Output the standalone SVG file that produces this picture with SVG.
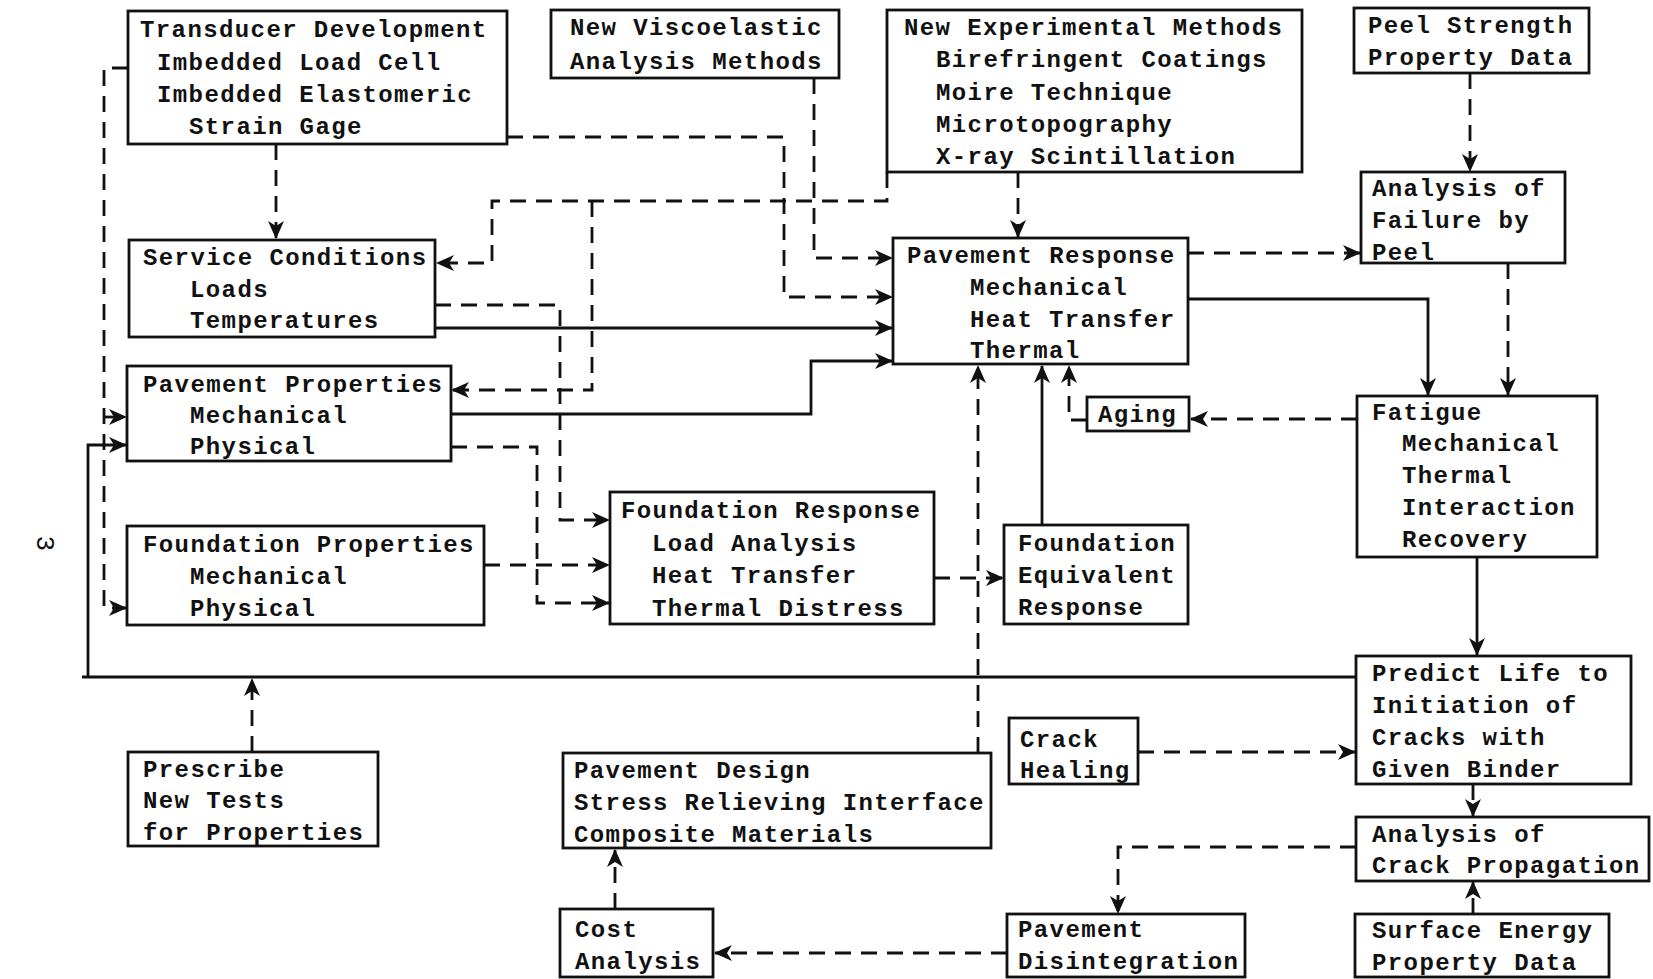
<svg xmlns="http://www.w3.org/2000/svg" width="1653" height="979" viewBox="0 0 1653 979">
<style>
.b{fill:none;stroke:#111;stroke-width:2.8}
.t{font-family:"Liberation Mono","DejaVu Sans Mono",monospace;font-size:24px;font-weight:bold;letter-spacing:1.4px;fill:#111}
.s{fill:none;stroke:#111;stroke-width:2.8;marker-end:url(#ah)}
.d{fill:none;stroke:#111;stroke-width:2.8;stroke-dasharray:16 10;marker-end:url(#ah)}
</style>
<defs>
<marker id="ah" viewBox="0 0 18 16" refX="17" refY="8" markerWidth="18" markerHeight="16" markerUnits="userSpaceOnUse" orient="auto">
<path d="M0,0 L18,8 L0,16 L5,8 z" fill="#111"/>
</marker>
</defs>
<rect width="1653" height="979" fill="#fff"/>

<g id="connectors">
<path class="d" d="M276,144 V238"/>
<path class="d" d="M128,68 H104 V608 H126"/>
<path class="d" d="M104,417 H126"/>
<path class="d" d="M252,752 V679"/>
<path class="d" d="M978,753 V366"/>
<path class="d" d="M1087,420 H1069 V366"/>
<path class="d" d="M1357,419 H1191"/>
<path class="d" d="M1188,253 H1360"/>
<path class="d" d="M1470,73 V171"/>
<path class="d" d="M1508,263 V395"/>
<path class="d" d="M1473,784 V816"/>
<path class="d" d="M1473,914 V882"/>
<path class="d" d="M1356,847 H1118 V913"/>
<path class="d" d="M1007,953 H715"/>
<path class="d" d="M615,909 V850"/>
<path class="d" d="M1138,752 H1355"/>
<path class="d" d="M934,578 H1003"/>
<path class="d" d="M1018,172 V237"/>
<path class="d" d="M887,172 V201 H492 V263 H437"/>
<path class="d" d="M592,201 V390 H452"/>
<path class="d" d="M507,137 H784 V297 H892"/>
<path class="d" d="M814,78 V258 H892"/>
<path class="d" d="M435,305 H560 V520 H609"/>
<path class="d" d="M451,447 H537 V603 H609"/>
<path class="d" d="M484,565 H609"/>
<path class="s" d="M1356,677 H82 M88,677 V445 H126"/>
<path class="s" d="M1042,525 V366"/>
<path class="s" d="M1188,299 H1428 V395"/>
<path class="s" d="M1477,558 V655"/>
<path class="s" d="M435,328 H892"/>
<path class="s" d="M451,414 H811 V361 H892"/>
</g>

<g id="n-transducer"><rect class="b" x="128" y="11" width="379" height="133"/>
<text class="t" x="140" y="37">Transducer Development</text><text class="t" x="157" y="70">Imbedded Load Cell</text><text class="t" x="157" y="102">Imbedded Elastomeric</text><text class="t" x="189" y="134">Strain Gage</text></g>

<g id="n-viscoelastic"><rect class="b" x="551" y="10" width="288" height="68"/>
<text class="t" x="570" y="35">New Viscoelastic</text><text class="t" x="570" y="69">Analysis Methods</text></g>

<g id="n-experimental"><rect class="b" x="887" y="10" width="415" height="162"/>
<text class="t" x="904" y="35">New Experimental Methods</text><text class="t" x="936" y="67">Birefringent Coatings</text><text class="t" x="936" y="100">Moire Technique</text><text class="t" x="936" y="132">Microtopography</text><text class="t" x="936" y="164">X-ray Scintillation</text></g>

<g id="n-peelstrength"><rect class="b" x="1354" y="8" width="235" height="65"/>
<text class="t" x="1368" y="33">Peel Strength</text><text class="t" x="1368" y="65">Property Data</text></g>

<g id="n-peelfailure"><rect class="b" x="1361" y="172" width="204" height="91"/>
<text class="t" x="1372" y="196">Analysis of</text><text class="t" x="1372" y="228">Failure by</text><text class="t" x="1372" y="260">Peel</text></g>

<g id="n-service"><rect class="b" x="129" y="240" width="306" height="97"/>
<text class="t" x="143" y="265">Service Conditions</text><text class="t" x="190" y="297">Loads</text><text class="t" x="190" y="328">Temperatures</text></g>

<g id="n-pavresp"><rect class="b" x="893" y="238" width="295" height="126"/>
<text class="t" x="907" y="263">Pavement Response</text><text class="t" x="970" y="295">Mechanical</text><text class="t" x="970" y="327">Heat Transfer</text><text class="t" x="970" y="358">Thermal</text></g>

<g id="n-pavprops"><rect class="b" x="127" y="366" width="324" height="95"/>
<text class="t" x="143" y="392">Pavement Properties</text><text class="t" x="190" y="423">Mechanical</text><text class="t" x="190" y="454">Physical</text></g>

<g id="n-aging"><rect class="b" x="1087" y="397" width="102" height="34"/>
<text class="t" x="1098" y="422">Aging</text></g>

<g id="n-fatigue"><rect class="b" x="1357" y="396" width="240" height="161"/>
<text class="t" x="1372" y="420">Fatigue</text><text class="t" x="1402" y="451">Mechanical</text><text class="t" x="1402" y="483">Thermal</text><text class="t" x="1402" y="515">Interaction</text><text class="t" x="1402" y="547">Recovery</text></g>

<g id="n-foundresp"><rect class="b" x="610" y="492" width="324" height="132"/>
<text class="t" x="621" y="518">Foundation Response</text><text class="t" x="652" y="551">Load Analysis</text><text class="t" x="652" y="583">Heat Transfer</text><text class="t" x="652" y="616">Thermal Distress</text></g>

<g id="n-foundprops"><rect class="b" x="127" y="526" width="357" height="99"/>
<text class="t" x="143" y="552">Foundation Properties</text><text class="t" x="190" y="584">Mechanical</text><text class="t" x="190" y="616">Physical</text></g>

<g id="n-foundequiv"><rect class="b" x="1004" y="525" width="184" height="99"/>
<text class="t" x="1018" y="551">Foundation</text><text class="t" x="1018" y="583">Equivalent</text><text class="t" x="1018" y="615">Response</text></g>

<g id="n-predict"><rect class="b" x="1356" y="656" width="275" height="128"/>
<text class="t" x="1372" y="681">Predict Life to</text><text class="t" x="1372" y="713">Initiation of</text><text class="t" x="1372" y="745">Cracks with</text><text class="t" x="1372" y="777">Given Binder</text></g>

<g id="n-crackheal"><rect class="b" x="1009" y="718" width="129" height="66"/>
<text class="t" x="1020" y="747">Crack</text><text class="t" x="1020" y="778">Healing</text></g>

<g id="n-prescribe"><rect class="b" x="128" y="752" width="250" height="94"/>
<text class="t" x="143" y="777">Prescribe</text><text class="t" x="143" y="808">New Tests</text><text class="t" x="143" y="840">for Properties</text></g>

<g id="n-pavdesign"><rect class="b" x="563" y="753" width="428" height="95"/>
<text class="t" x="574" y="778">Pavement Design</text><text class="t" x="574" y="810">Stress Relieving Interface</text><text class="t" x="574" y="842">Composite Materials</text></g>

<g id="n-crackprop"><rect class="b" x="1356" y="817" width="293" height="64"/>
<text class="t" x="1372" y="842">Analysis of</text><text class="t" x="1372" y="873">Crack Propagation</text></g>

<g id="n-cost"><rect class="b" x="560" y="909" width="153" height="68"/>
<text class="t" x="575" y="937">Cost</text><text class="t" x="575" y="969">Analysis</text></g>

<g id="n-disint"><rect class="b" x="1007" y="914" width="238" height="63"/>
<text class="t" x="1018" y="937">Pavement</text><text class="t" x="1018" y="969">Disintegration</text></g>

<g id="n-surface"><rect class="b" x="1355" y="914" width="254" height="63"/>
<text class="t" x="1372" y="938">Surface Energy</text><text class="t" x="1372" y="970">Property Data</text></g>

<text class="t" style="font-weight:normal;font-size:26px" transform="translate(44,544) rotate(90)" text-anchor="middle" dominant-baseline="central">3</text>
</svg>
